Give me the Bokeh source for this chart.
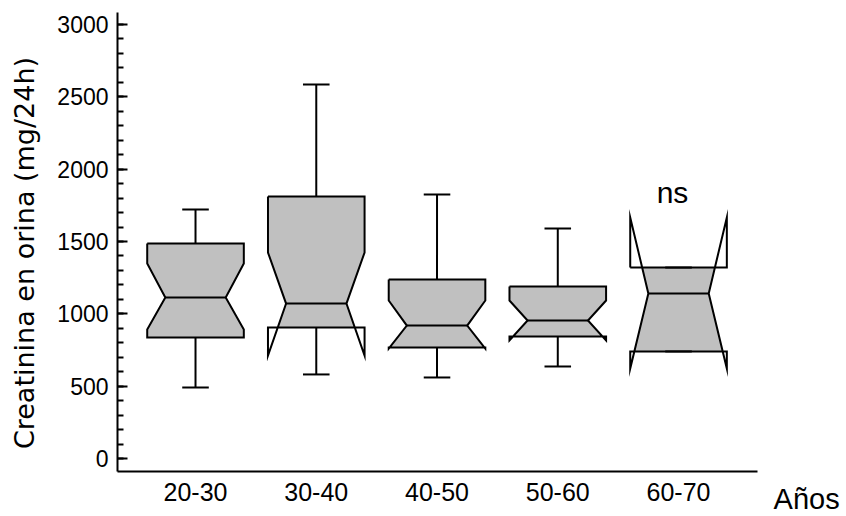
import math
import numpy as np
from bokeh.plotting import figure
from bokeh.models import Label, FixedTicker, SingleIntervalTicker, Range1d
from bokeh.embed import file_html
from bokeh.resources import INLINE
from bokeh.core.properties import value

# ---- data ----
groups = ["20-30", "30-40", "40-50", "50-60", "60-70"]
whisker_hi = [1721, 2585, 1825, 1590, 1320]
q3 = [1486, 1811, 1237, 1189, 1320]
notch_hi = [1348, 1424, 1092, 1092, 1666]
median = [1113, 1071, 919, 954, 1141]
notch_lo = [892, 712, 760, 816, 622]
q1 = [836, 906, 767, 843, 740]
whisker_lo = [491, 581, 560, 636, 740]
annotations = ["", "", "", "", "ns"]

y_label = "Creatinina en orina (mg/24h)"
x_label = "Años"

FONT = "Liberation Sans"
BOX_FILL = "#c0c0c0"

# half widths (in x data units)
W = 0.40
w = 0.25
CAP = 0.11

# axis extents (data units)
X_AXIS = (0.354, 5.654)
Y_AXIS = (-90, 3083)

fill_xs, fill_ys = [], []
line_xs, line_ys = [], []

for i in range(len(groups)):
    c = i + 1
    Q3, Q1, md, nh, nl = q3[i], q1[i], median[i], notch_hi[i], notch_lo[i]

    def hw(y):
        if y >= nh or y <= nl:
            return W
        if y >= md:
            return w + (W - w) * (y - md) / (nh - md)
        return w + (W - w) * (md - y) / (md - nl)

    levels = {Q3, Q1, md}
    for v in (nh, nl):
        if Q1 < v < Q3:
            levels.add(v)
    levels = sorted(levels, reverse=True)
    xs = [c + hw(y) for y in levels] + [c - hw(y) for y in reversed(levels)]
    ys = list(levels) + list(reversed(levels))
    fill_xs.append(xs)
    fill_ys.append(ys)

    # notch outline
    line_xs.append([c - W, c + W, c + W, c + w, c + W, c + W, c - W, c - W, c - w, c - W, c - W])
    line_ys.append([Q3, Q3, nh, md, nl, Q1, Q1, nl, md, nh, Q3])
    # median
    line_xs.append([c - w, c + w])
    line_ys.append([md, md])
    # whiskers
    line_xs.append([c, c]); line_ys.append([Q3, whisker_hi[i]])
    line_xs.append([c, c]); line_ys.append([Q1, whisker_lo[i]])
    line_xs.append([c - CAP, c + CAP]); line_ys.append([whisker_hi[i], whisker_hi[i]])
    line_xs.append([c - CAP, c + CAP]); line_ys.append([whisker_lo[i], whisker_lo[i]])

p = figure(width=846, height=516,
           x_range=Range1d(-0.615, 6.391), y_range=Range1d(-401, 3166),
           output_backend="svg", toolbar_location=None,
           min_border=0, min_border_left=0, min_border_right=0,
           min_border_top=0, min_border_bottom=0)
p.background_fill_color = "white"
p.border_fill_color = "white"
p.outline_line_color = None
p.grid.visible = False

p.patches(fill_xs, fill_ys, fill_color=BOX_FILL, line_color=None)
p.multi_line(line_xs, line_ys, line_color="black", line_width=2, line_join="miter")

# annotations
ann_x, ann_y, ann_t = [], [], []
for i, t in enumerate(annotations):
    if t:
        ann_x.append(i + 1 - 0.05)
        ann_y.append(max(notch_hi[i], whisker_hi[i]) + 175)
        ann_t.append(t)
p.text(x=ann_x, y=ann_y, text=ann_t, text_font=value(FONT), text_font_size="30px",
       text_align="center", text_baseline="middle", text_color="black")

# x axis (drawn at the bottom of the value range)
xa = p.xaxis[0]
xa.fixed_location = Y_AXIS[0]
xa.bounds = X_AXIS
xa.ticker = FixedTicker(ticks=list(range(1, len(groups) + 1)))
xa.major_label_overrides = {i + 1: g for i, g in enumerate(groups)}
xa.major_tick_in = 0
xa.major_tick_out = 0
xa.minor_tick_in = 0
xa.minor_tick_out = 0
xa.axis_line_width = 2
xa.axis_line_color = "black"
xa.major_label_text_font = FONT
xa.major_label_text_font_size = "25px"
xa.major_label_text_color = "black"
xa.major_label_standoff = 11

# y axis (drawn at the left end of the category range)
ya = p.yaxis[0]
ya.fixed_location = X_AXIS[0]
ya.bounds = Y_AXIS
ya.ticker = SingleIntervalTicker(interval=500, num_minor_ticks=5)
ya.major_tick_in = 10
ya.major_tick_out = 0
ya.minor_tick_in = 6
ya.minor_tick_out = 0
ya.major_tick_line_width = 2
ya.minor_tick_line_width = 2
ya.axis_line_width = 2
ya.axis_line_color = "black"
ya.major_tick_line_color = "black"
ya.minor_tick_line_color = "black"
ya.major_label_text_font = FONT
ya.major_label_text_font_size = "23px"
ya.major_label_text_color = "black"
ya.major_label_standoff = 9

# axis titles
p.add_layout(Label(x=-0.416, y=sum(Y_AXIS) / 2 - 76, text=y_label, angle=math.pi / 2,
                   text_font="DejaVu Sans", text_font_size="27px",
                   text_align="center", text_baseline="middle", text_color="black"))
p.add_layout(Label(x=X_AXIS[1] + 0.133, y=-280, text=x_label,
                   text_font=FONT, text_font_size="29px",
                   text_align="left", text_baseline="middle", text_color="black"))

open("out.html", "w").write(file_html(p, INLINE))
